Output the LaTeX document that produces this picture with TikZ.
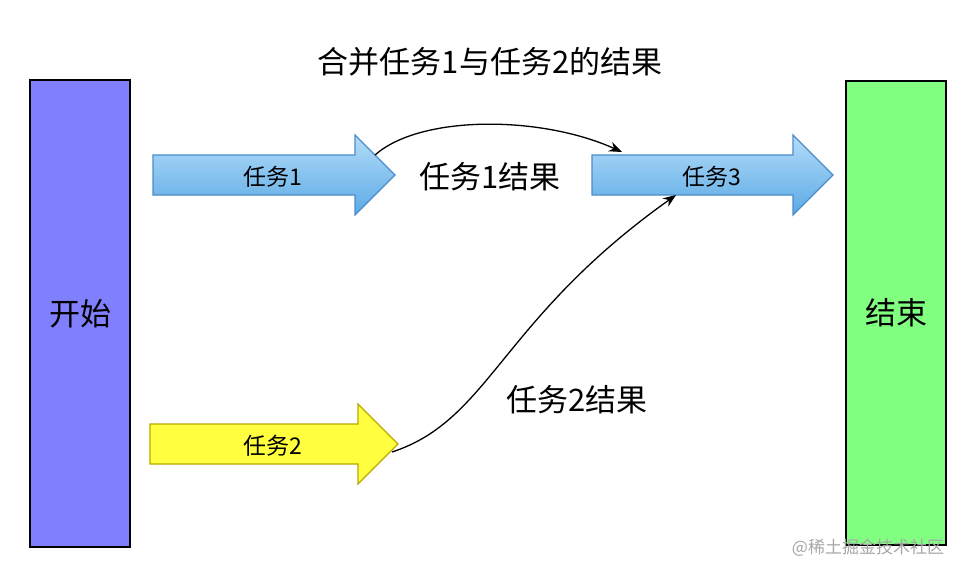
\documentclass[tikz,border=0pt]{standalone}
\usepackage{fontspec}
\setmainfont{Noto Sans CJK SC}
\usetikzlibrary{arrows.meta}
\definecolor{startblue}{HTML}{8080FF}
\definecolor{endgreen}{HTML}{80FF80}
\definecolor{tasktop}{HTML}{B4DCF8}
\definecolor{taskbot}{HTML}{5AAAE6}
\definecolor{taskline}{HTML}{4A8CCC}
\definecolor{taskyellow}{HTML}{FFFF40}
\definecolor{yellowline}{HTML}{B8A800}
\tikzset{
  bar/.style={draw=black,line width=1.4pt,minimum width=100pt,inner sep=0pt},
  bluetask/.style={draw=taskline,line width=1.2pt,top color=tasktop,bottom color=taskbot},
  yellowtask/.style={draw=yellowline,line width=1.2pt,fill=taskyellow},
  link/.style={line width=1.3pt,-{Stealth[length=13pt,width=10pt]}}
}
% arrow shape: tail x, mid y, tip x
\newcommand{\taskarrow}[4]{%
  \path[#4] (#1,#2-20) -- (#3-40,#2-20) -- (#3-40,#2-40) -- (#3,#2)
    -- (#3-40,#2+40) -- (#3-40,#2+20) -- (#1,#2+20) -- cycle;}
\begin{document}
\begin{tikzpicture}[x=1pt,y=-1pt]
	\useasboundingbox (0,0) rectangle (966,574);

	\node[bar,fill=startblue,minimum height=467pt,font=\fontsize{31}{35}\selectfont] (start) at (80,313.5) {开始};
	\node[bar,fill=endgreen,minimum height=464pt,font=\fontsize{31}{35}\selectfont] (finish) at (896,313) {结束};

	\node[font=\fontsize{31}{35}\selectfont] (title) at (490,62) {合并任务1与任务2的结果};

	\taskarrow{153}{175}{395}{bluetask}
	\taskarrow{592}{175}{833}{bluetask}
	\taskarrow{150}{444}{398}{yellowtask}
	\node[font=\fontsize{23}{27}\selectfont] (t1) at (273,177) {任务1};
	\node[font=\fontsize{23}{27}\selectfont] (t3) at (712,177) {任务3};
	\node[font=\fontsize{23}{27}\selectfont] (t2) at (273,446) {任务2};

	\coordinate (t1out) at (375,155);
	\coordinate (t3in) at (622,152);
	\coordinate (t2out) at (392,452);
	\coordinate (t3low) at (676,195);

	\draw[link] (t1out) .. controls (420,115) and (540,115) .. (t3in);
	\draw[link] (t2out) .. controls (490,420) and (500,320) .. (t3low);

	\node[font=\fontsize{31}{35}\selectfont] (r1) at (490,177) {任务1结果};
	\node[font=\fontsize{31}{35}\selectfont] (r2) at (577,400) {任务2结果};

	\node[text=gray!70,font=\fontsize{17}{20}\selectfont] (mark) at (868,548) {@稀土掘金技术社区};
\end{tikzpicture}
\end{document}
